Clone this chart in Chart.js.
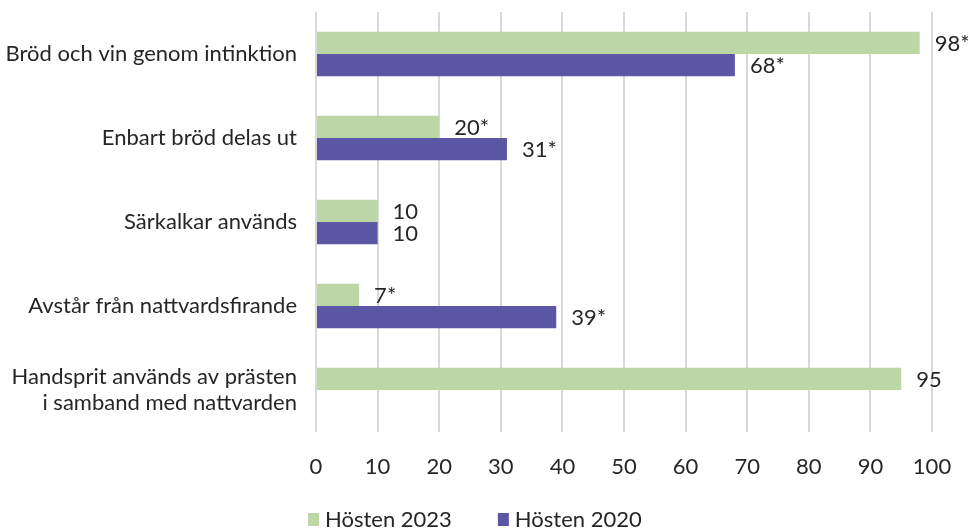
<!DOCTYPE html>
<html>
<head>
<meta charset="utf-8">
<script src="https://cdn.jsdelivr.net/npm/chart.js@4.4.0/dist/chart.umd.min.js"></script>
<style>
  html, body { margin: 0; padding: 0; background: #fff; }
  #wrap { width: 970px; height: 529px; position: relative; }
</style>
</head>
<body>
<div id="wrap"><canvas id="chart"></canvas></div>
<script>
// categories and values
const categories = [
  "Bröd och vin genom intinktion",
  "Enbart bröd delas ut",
  "Särkalkar används",
  "Avstår från nattvardsfirande",
  ["Handsprit används av prästen", "i samband med nattvarden"],
];
const values2023 = [98, 20, 10, 7, 95];
const values2020 = [68, 31, 10, 39, null];
const labels2023 = ["98*", "20*", "10", "7*", "95"];
const labels2020 = ["68*", "31*", "10", "39*", ""];
const xTicks = [0, 10, 20, 30, 40, 50, 60, 70, 80, 90, 100];

const GREEN = "#bdd6a5";
const PURPLE = "#5c57a5";
const TEXT = "#262626";
const FONT = "Lato";
const SIZE = 22;

const valueLabels = {
  id: "valueLabels",
  afterDatasetsDraw(chart) {
    let ctx = chart.ctx;
    ctx.save();
    ctx.font = `${SIZE}px ${FONT}`;
    ctx.fillStyle = TEXT;
    ctx.textBaseline = "middle";
    ctx.textAlign = "left";
    chart.data.datasets.forEach((ds, i) => {
      let meta = chart.getDatasetMeta(i);
      meta.data.forEach((bar, j) => {
        let txt = ds.valueText[j];
        if (!txt || ds.data[j] == null) return;
        ctx.fillText(txt, bar.x + 15, bar.y + 1);
      });
    });
    ctx.restore();
  },
};

// legend at the bottom, spaced like the original
const bottomLegend = {
  id: "bottomLegend",
  afterDraw(chart) {
    let ctx = chart.ctx;
    ctx.save();
    ctx.font = `${SIZE}px ${FONT}`;
    ctx.textBaseline = "middle";
    ctx.textAlign = "left";
    let x = 308;
    let y = 520;
    chart.data.datasets.forEach((ds) => {
      ctx.fillStyle = ds.backgroundColor;
      ctx.fillRect(x, y - 7, 11, 13);
      ctx.fillStyle = TEXT;
      ctx.fillText(ds.label, x + 17, y);
      x += 17 + ctx.measureText(ds.label).width + 46;
    });
    ctx.restore();
  },
};

new Chart(document.getElementById("chart"), {
  type: "bar",
  data: {
    labels: categories,
    datasets: [
      {
        label: "Hösten 2023",
        data: values2023,
        valueText: labels2023,
        backgroundColor: GREEN,
        categoryPercentage: 0.53,
        barPercentage: 1,
      },
      {
        label: "Hösten 2020",
        data: values2020,
        valueText: labels2020,
        backgroundColor: PURPLE,
        categoryPercentage: 0.53,
        barPercentage: 1,
      },
    ],
  },
  options: {
    indexAxis: "y",
    responsive: true,
    maintainAspectRatio: false,
    animation: false,
    layout: { padding: { top: 12, right: 38, left: 0, bottom: 31 } },
    scales: {
      x: {
        min: 0,
        max: 100,
        afterBuildTicks: (scale) => {
          scale.ticks = xTicks.map((v) => ({ value: v }));
        },
        grid: { color: "#d9d9d9", lineWidth: 2, drawTicks: false },
        border: { display: false },
        ticks: {
          color: TEXT,
          font: { family: FONT, size: SIZE },
          padding: 22,
        },
        afterFit: (scale) => {
          scale.height = 66;
          scale.paddingLeft = 0;
          scale.paddingRight = 0;
        },
      },
      y: {
        grid: { display: false, drawTicks: false },
        border: { display: false },
        ticks: {
          color: TEXT,
          font: { family: FONT, size: SIZE },
          padding: 19,
        },
        afterFit: (scale) => {
          scale.width = 316;
          scale.paddingTop = 0;
          scale.paddingBottom = 0;
        },
      },
    },
    plugins: {
      legend: { display: false },
      tooltip: { enabled: false },
    },
  },
  plugins: [valueLabels, bottomLegend],
});
</script>
</body>
</html>
